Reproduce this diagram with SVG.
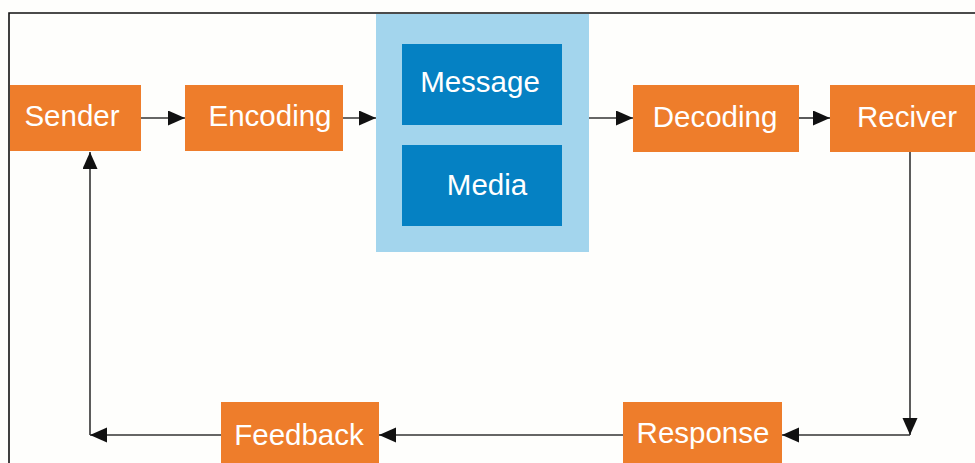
<svg xmlns="http://www.w3.org/2000/svg" width="975" height="463" viewBox="0 0 975 463">
<defs>
<style>
.orange{fill:#EE7D2B}
.lt{fill:#A3D5ED}
.dk{fill:#0581C3}
.lbl{font-family:"Liberation Sans",Arial,sans-serif;font-size:29.5px;fill:#FFFFFF;text-anchor:middle}
.conn{stroke:#333333;stroke-width:1.6;fill:none;marker-end:url(#ah)}
</style>
<marker id="ah" markerUnits="userSpaceOnUse" markerWidth="18" markerHeight="16" refX="17" refY="7.5" orient="auto">
<path d="M0,0 L17,7.5 L0,15 z" fill="#111111"/>
</marker>
</defs>
<rect width="975" height="463" fill="#FEFEFC"/>
<path d="M9,463 V13 H975" stroke="#111111" stroke-width="1.6" fill="none"/>
<g id="connectors">
<path class="conn" d="M141,118 H185"/>
<path class="conn" d="M343,118 H376"/>
<path class="conn" d="M589,118 H633"/>
<path class="conn" d="M799,118 H830"/>
<path class="conn" d="M910,152 V435"/>
<path class="conn" d="M910,435 H782"/>
<path class="conn" d="M623,435 H379"/>
<path class="conn" d="M221,435 H90"/>
<path class="conn" d="M90,435 V152"/>
</g>
<g id="sender"><rect class="orange" x="10" y="85" width="131" height="66"/><text class="lbl" x="72" y="126">Sender</text></g>
<g id="encoding"><rect class="orange" x="185" y="85" width="158" height="66"/><text class="lbl" x="270" y="126">Encoding</text></g>
<g id="channel"><rect class="lt" x="376" y="14" width="213" height="238"/></g>
<g id="message"><rect class="dk" x="402" y="44" width="160" height="81"/><text class="lbl" x="480" y="92">Message</text></g>
<g id="media"><rect class="dk" x="402" y="145" width="160" height="81"/><text class="lbl" x="487" y="195">Media</text></g>
<g id="decoding"><rect class="orange" x="633" y="85" width="166" height="67"/><text class="lbl" x="715" y="127">Decoding</text></g>
<g id="reciver"><rect class="orange" x="830" y="85" width="145" height="67"/><text class="lbl" x="907" y="127">Reciver</text></g>
<g id="response"><rect class="orange" x="623" y="402" width="159" height="61"/><text class="lbl" x="703" y="443">Response</text></g>
<g id="feedback"><rect class="orange" x="221" y="402" width="158" height="61"/><text class="lbl" x="299" y="445">Feedback</text></g>
</svg>
